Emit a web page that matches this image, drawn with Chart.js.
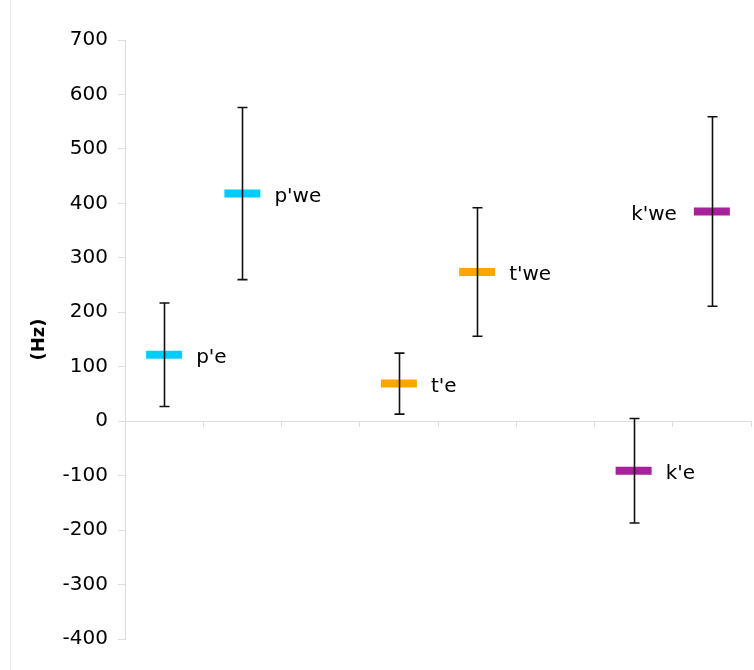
<!DOCTYPE html>
<html>
<head>
<meta charset="utf-8">
<script src="https://cdn.jsdelivr.net/npm/chart.js@4/dist/chart.umd.min.js"></script>
<style>
    html, body { margin: 0; padding: 0; background: #fff; overflow: hidden; }
    canvas { display: block; }
</style>
</head>
<body>
<canvas id="myChart" width="754" height="670"></canvas>
<script>
// values (Hz); empty slots keep the gaps between groups
const categories = ["p'e", "p'we", "", "t'e", "t'we", "", "k'e", "k'we"];
const means = [122, 418, null, 69, 274, null, -91, 385];
const errors = [95, 158, null, 56, 118, null, 96, 174];
const pointColors = ["#00ccff", "#00ccff", null, "#ffa500", "#ffa500", null, "#a8219a", "#a8219a"];
const yTicks = [-400, -300, -200, -100, 0, 100, 200, 300, 400, 500, 600, 700];

// error bars + point labels drawn through the scales
const errorBarPlugin = {
    id: "errorBars",
    beforeDraw(chart) {
        const ctx = chart.ctx;
        ctx.save();
        ctx.strokeStyle = "#e6e6e6";
        ctx.lineWidth = 1;
        ctx.beginPath();
        ctx.moveTo(10.5, 0);
        ctx.lineTo(10.5, chart.height);
        ctx.stroke();
        ctx.restore();
    },
    afterDatasetsDraw(chart) {
        const ctx = chart.ctx;
        const x = chart.scales.x;
        const y = chart.scales.y;
        ctx.save();
        ctx.strokeStyle = "#111";
        ctx.lineWidth = 1.6;
        means.forEach(function (m, i) {
            if (m === null) return;
            const px = Math.round(x.getPixelForValue(i)) + 0.5;
            const top = y.getPixelForValue(m + errors[i]);
            const bottom = y.getPixelForValue(m - errors[i]);
            ctx.beginPath();
            ctx.moveTo(px, top);
            ctx.lineTo(px, bottom);
            ctx.moveTo(px - 5, top);
            ctx.lineTo(px + 5, top);
            ctx.moveTo(px - 5, bottom);
            ctx.lineTo(px + 5, bottom);
            ctx.stroke();
        });

        ctx.fillStyle = "#000";
        ctx.font = "20px 'DejaVu Sans'";
        ctx.textBaseline = "middle";
        means.forEach(function (m, i) {
            if (m === null) return;
            const px = x.getPixelForValue(i);
            const py = y.getPixelForValue(m) + 3;
            // last label sits on the left of its marker
            if (i === means.length - 1) {
                ctx.textAlign = "right";
                ctx.fillText(categories[i], px - 35, py);
            } else {
                ctx.textAlign = "left";
                ctx.fillText(categories[i], px + 32, py);
            }
        });
        ctx.restore();
    },
};

const ctx = document.getElementById("myChart");
const myChart = new Chart(ctx, {
    type: "line",
    data: {
        labels: categories,
        datasets: [
            {
                data: means,
                showLine: false,
                pointStyle: "line",
                pointRadius: 18,
                pointHoverRadius: 18,
                pointBorderWidth: 8,
                pointHoverBorderWidth: 8,
                pointBorderColor: pointColors,
                pointBackgroundColor: pointColors,
            },
        ],
    },
    options: {
        responsive: false,
        animation: false,
        devicePixelRatio: 1,
        layout: {
            autoPadding: false,
            padding: { top: 40, bottom: 31, left: 0, right: 3 },
        },
        plugins: {
            legend: { display: false },
            tooltip: { enabled: false },
        },
        scales: {
            x: {
                type: "category",
                position: { y: 0 },
                offset: true,
                ticks: { display: false },
                grid: {
                    offset: true,
                    drawOnChartArea: false,
                    drawTicks: true,
                    tickLength: 5,
                    color: "#dcdcdc",
                },
                border: { color: "#dcdcdc" },
            },
            y: {
                min: -400,
                max: 700,
                afterBuildTicks: function (scale) {
                    scale.ticks = yTicks.map(function (v) {
                        return { value: v };
                    });
                },
                afterFit: function (scale) {
                    scale.width = 125;
                },
                ticks: {
                    color: "#000",
                    padding: 10,
                    font: { family: "'DejaVu Sans'", size: 20 },
                },
                grid: {
                    drawOnChartArea: false,
                    drawTicks: true,
                    tickLength: 7,
                    color: "#dcdcdc",
                },
                border: { color: "#dcdcdc" },
                title: {
                    display: true,
                    text: "(Hz)",
                    color: "#000",
                    padding: { top: 29, bottom: 0 },
                    font: { family: "'DejaVu Sans'", size: 18, weight: "bold" },
                },
            },
        },
    },
    plugins: [errorBarPlugin],
});
</script>
</body>
</html>
